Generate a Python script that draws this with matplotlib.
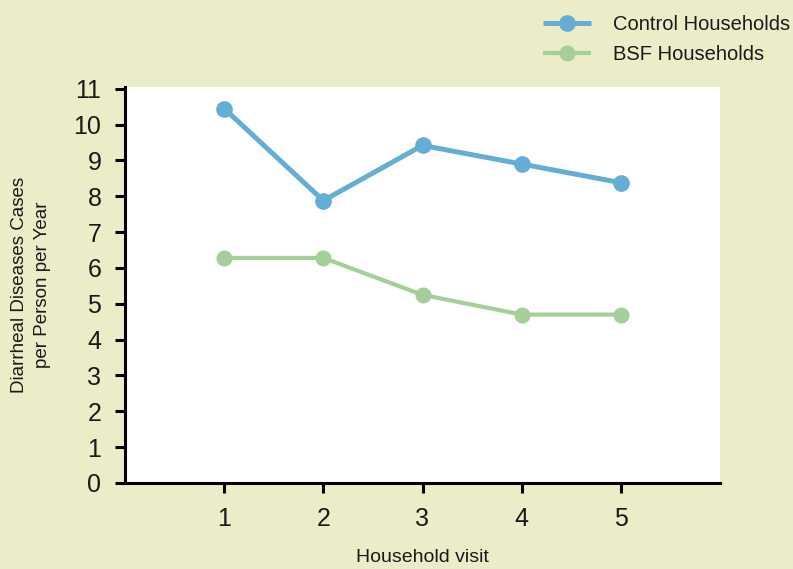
import matplotlib

matplotlib.use("Agg")
import matplotlib.pyplot as plt

plt.rcParams["font.family"] = ["Liberation Sans", "DejaVu Sans"]

visits = [1, 2, 3, 4, 5]
control = [10.45, 7.88, 9.42, 8.9, 8.38]
bsf = [6.28, 6.28, 5.25, 4.7, 4.7]
yticks = list(range(0, 12))

BG = "#ebecc8"
BLUE = "#64aed6"
GREEN = "#a4cf98"
TEXT = "#1a1a1a"

fig = plt.figure(figsize=(7.93, 5.69), dpi=100, facecolor=BG)
ax = fig.add_axes([125 / 793, 86 / 569, 595 / 793, 396 / 569])
ax.set_facecolor("white")

ax.plot(visits, control, color=BLUE, lw=3.6, marker="o", ms=11,
        label="Control Households", solid_capstyle="butt")
ax.plot(visits, bsf, color=GREEN, lw=3.0, marker="o", ms=10.5,
        label="BSF Households", solid_capstyle="butt")

ax.set_xlim(0, 6)
ax.set_ylim(0, 11.05)
ax.set_xticks(visits)
ax.set_yticks(yticks)

for s in ("top", "right"):
    ax.spines[s].set_visible(False)
for s in ("left", "bottom"):
    ax.spines[s].set_linewidth(2.2)
    ax.spines[s].set_color("black")

ax.tick_params(direction="out", length=7, width=2.2, labelsize=18,
               colors="black", labelcolor=TEXT)
ax.tick_params(axis="x", pad=10)
ax.tick_params(axis="y", pad=10)

fig.text(31 / 793, 1 - 285 / 569, "Diarrheal Diseases Cases\nper Person per Year",
         rotation=90, ha="center", va="center", fontsize=13.5, color=TEXT,
         linespacing=1.4)
fig.text(422 / 793, 1 - 557 / 569, "Household visit", ha="center", va="center",
         fontsize=14, color=TEXT)

fig.legend(loc="upper left", bbox_to_anchor=(543 / 793, 1 - 15 / 569),
           frameon=False, fontsize=14.5, handlelength=2.4, handletextpad=1.1,
           labelspacing=0.55, borderpad=0, borderaxespad=0, labelcolor=TEXT)

fig.savefig("out.png", dpi=100, facecolor=BG)
